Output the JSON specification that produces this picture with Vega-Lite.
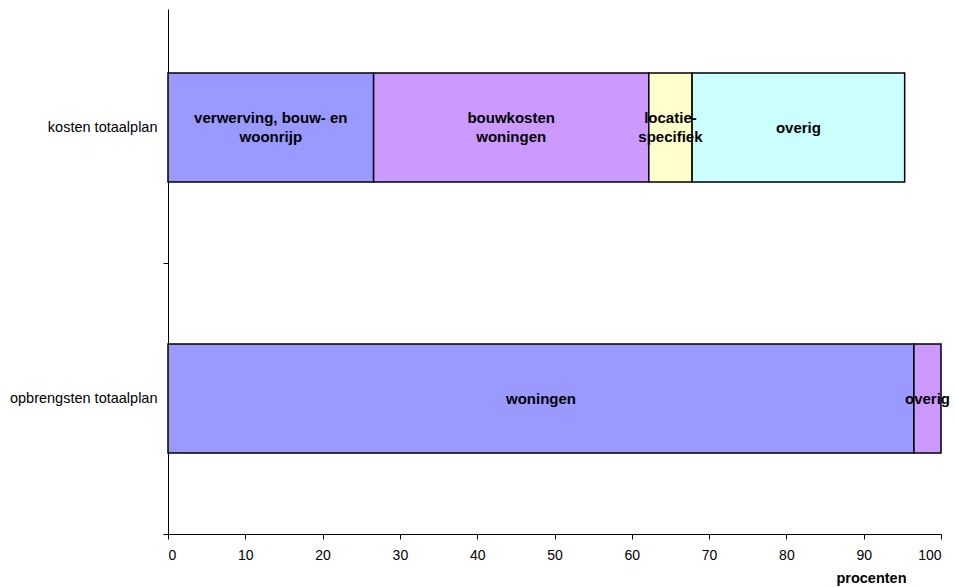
{
  "$schema": "https://vega.github.io/schema/vega-lite/v6.json",
  "width": 773,
  "height": 525,
  "autosize": "none",
  "padding": {"left": 168, "top": 9, "right": 14, "bottom": 53},
  "background": "white",
  "config": {
    "view": {"stroke": null},
    "axis": {"grid": false},
    "text": {
      "font": "Liberation Sans",
      "fontWeight": "bold",
      "fontSize": 15,
      "lineBreak": "\n",
      "lineHeight": 19,
      "baseline": "middle",
      "align": "center",
      "color": "#000"
    }
  },
  "data": {
    "values": [
      {"plan": "kosten totaalplan", "reeks": 1, "post": "verwerving, bouw- en\nwoonrijp", "aandeel": 26.6},
      {"plan": "kosten totaalplan", "reeks": 2, "post": "bouwkosten\nwoningen", "aandeel": 35.6},
      {"plan": "kosten totaalplan", "reeks": 3, "post": "locatie-\nspecifiek", "aandeel": 5.6},
      {"plan": "kosten totaalplan", "reeks": 4, "post": "overig", "aandeel": 27.5},
      {"plan": "opbrengsten totaalplan", "reeks": 1, "post": "woningen", "aandeel": 96.5},
      {"plan": "opbrengsten totaalplan", "reeks": 2, "post": "overig", "aandeel": 3.5}
    ]
  },
  "encoding": {
    "y": {
      "field": "plan",
      "type": "nominal",
      "sort": ["kosten totaalplan", "opbrengsten totaalplan"],
      "scale": {"paddingInner": 0.598, "paddingOuter": 0.2675, "align": 0.441},
      "axis": {
        "title": null,
        "tickOffset": 135.5,
        "labelOffset": -135.5,
        "tickSize": 5,
        "tickColor": "#000",
        "domainColor": "#000",
        "labelPadding": 6,
        "labelFont": "Liberation Sans",
        "labelFontSize": 14.5,
        "labelColor": "#000"
      }
    },
    "order": {"field": "reeks", "type": "ordinal"}
  },
  "layer": [
    {
      "mark": {"type": "bar", "stroke": "#000", "strokeWidth": 1.5},
      "encoding": {
        "x": {
          "field": "aandeel",
          "type": "quantitative",
          "stack": "zero",
          "scale": {"domain": [0, 100], "nice": false},
          "axis": {
            "values": [0, 10, 20, 30, 40, 50, 60, 70, 80, 90, 100],
            "tickSize": 5,
            "tickColor": "#000",
            "domainColor": "#000",
            "labelPadding": 9,
            "labelFont": "Liberation Sans",
            "labelFontSize": 14,
            "labelColor": "#000",
            "title": "procenten",
            "titleFont": "Liberation Sans",
            "titleFontSize": 14.5,
            "titleFontWeight": "bold",
            "titleColor": "#000",
            "titleX": 703,
            "titleY": 44,
            "titleAlign": "center",
            "titleBaseline": "middle"
          }
        },
        "color": {
          "field": "reeks",
          "type": "ordinal",
          "scale": {"domain": [1, 2, 3, 4], "range": ["#9999FF", "#CC99FF", "#FFFFCC", "#CCFFFF"]},
          "legend": null
        }
      }
    },
    {
      "mark": {"type": "text", "dy": 1},
      "encoding": {
        "x": {"field": "aandeel", "type": "quantitative", "stack": "zero", "bandPosition": 0.5},
        "detail": {"field": "reeks"},
        "text": {
          "condition": {"test": "indexof(datum.post, '\\n') < 0", "field": "post"},
          "value": ""
        }
      }
    },
    {
      "mark": {"type": "text", "dy": -9},
      "encoding": {
        "x": {"field": "aandeel", "type": "quantitative", "stack": "zero", "bandPosition": 0.5},
        "detail": {"field": "reeks"},
        "text": {
          "condition": {"test": "indexof(datum.post, '\\n') >= 0", "field": "post"},
          "value": ""
        }
      }
    }
  ]
}
